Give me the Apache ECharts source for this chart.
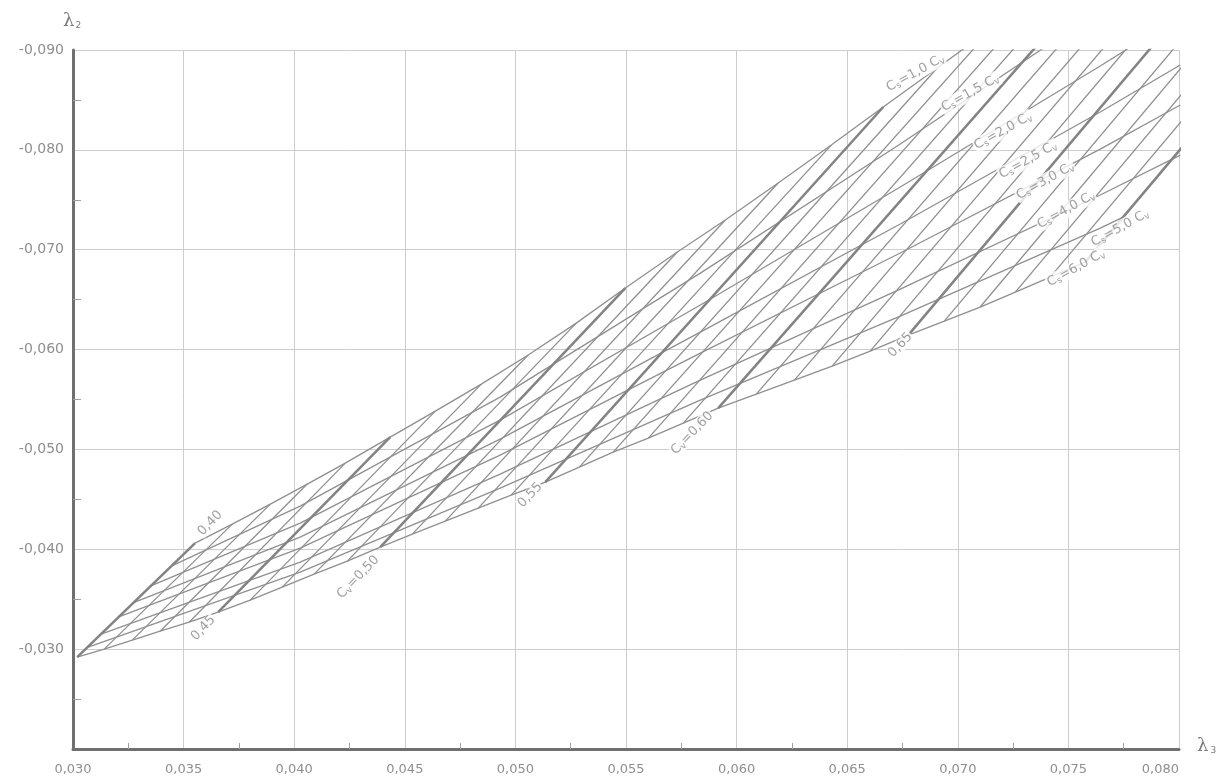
<!DOCTYPE html>
<html><head><meta charset="utf-8">
<script src="https://cdn.jsdelivr.net/npm/echarts@6/dist/echarts.min.js"></script>
<style>html,body{margin:0;padding:0;background:#fff}#c{width:1226px;height:783px}</style>
</head><body><div id="c"></div>
<script>
// Cv values of the steep lines
const cvValues = [0.40,0.41,0.42,0.43,0.44,0.45,0.46,0.47,0.48,0.49,0.50,0.51,0.52,0.53,0.54,0.55,0.56,0.57,0.58,0.59,0.60,0.61,0.62,0.63,0.64,0.65,0.66,0.67,0.68,0.69,0.70];
// Cs = 1.0 Cv curve (upper end of every Cv line)
const topL3 = [0.03552,0.03720,0.03892,0.04059,0.04231,0.04434,0.04638,0.04846,0.05058,0.05275,0.05497,0.05732,0.05949,0.06188,0.06428,0.06663,0.06907,0.07156,0.07409,0.07667,0.07929,0.08196,0.08467,0.08743,0.09023,0.09308,0.09597,0.09891,0.10189,0.10492,0.10800];
const topL2 = [-0.04062,-0.04252,-0.04452,-0.04653,-0.04863,-0.05123,-0.05384,-0.05654,-0.05945,-0.06265,-0.06616,-0.06977,-0.07297,-0.07668,-0.08048,-0.08429,-0.08820,-0.09220,-0.09631,-0.10052,-0.10483,-0.10923,-0.11374,-0.11835,-0.12306,-0.12786,-0.13277,-0.13778,-0.14289,-0.14810,-0.15341];
// Cs = 6.0 Cv curve (lower end of every Cv line)
const botL3 = [0.03019,0.03141,0.03268,0.03394,0.03525,0.03656,0.03801,0.03946,0.04090,0.04240,0.04389,0.04534,0.04683,0.04832,0.04981,0.05135,0.05289,0.05442,0.05601,0.05759,0.05917,0.06089,0.06261,0.06432,0.06604,0.06776,0.06939,0.07101,0.07260,0.07418,0.07576];
const botL2 = [-0.02920,-0.03000,-0.03090,-0.03180,-0.03270,-0.03370,-0.03491,-0.03621,-0.03751,-0.03881,-0.04022,-0.04152,-0.04282,-0.04412,-0.04542,-0.04673,-0.04823,-0.04973,-0.05113,-0.05264,-0.05414,-0.05554,-0.05694,-0.05835,-0.05985,-0.06145,-0.06285,-0.06426,-0.06576,-0.06726,-0.06876];
// intermediate Cs/Cv curves (lambda3, lambda2 pairs)
const r15L3 = [0.03444,0.04027,0.04931,0.05836,0.06740,0.07644];
const r15L2 = [-0.03831,-0.04432,-0.05524,-0.06766,-0.08058,-0.09401];
const r20L3 = [0.03349,0.04027,0.04931,0.05836,0.06740,0.07644,0.08006];
const r20L2 = [-0.03631,-0.04262,-0.05294,-0.06446,-0.07628,-0.08840,-0.09341];
const r25L3 = [0.03268,0.04027,0.04931,0.05836,0.06740,0.07644,0.08006];
const r25L2 = [-0.03461,-0.04122,-0.05103,-0.06175,-0.07257,-0.08379,-0.08850];
const r30L3 = [0.03204,0.04027,0.04931,0.05836,0.06740,0.07644,0.08006];
const r30L2 = [-0.03320,-0.04012,-0.04943,-0.05965,-0.06967,-0.08008,-0.08449];
const r40L3 = [0.03127,0.04027,0.04931,0.05836,0.06740,0.07644,0.08006];
const r40L2 = [-0.03150,-0.03871,-0.04753,-0.05694,-0.06606,-0.07548,-0.07948];
const r50L3 = [0.03069,0.04027,0.04931,0.05836,0.06740,0.07644,0.07757];
const r50L2 = [-0.03020,-0.03771,-0.04613,-0.05494,-0.06335,-0.07217,-0.07337];
// labels
const cvLabelText = ['0,40','0,45','C|v|=0,50','0,55','C|v|=0,60','0,65'];
const cvLabelL3 = [0.03620,0.03589,0.04289,0.05067,0.05799,0.06740];
const cvLabelL2 = [-0.04262,-0.03210,-0.03721,-0.04542,-0.05163,-0.06045];
const ratioText = ['1,0','1,5','2,0','2,5','3,0','4,0','5,0','6,0'];
const ratioLabelL3 = [0.06808,0.07056,0.07205,0.07318,0.07395,0.07490,0.07734,0.07535];
const ratioLabelL2 = [-0.08770,-0.08569,-0.08189,-0.07898,-0.07688,-0.07397,-0.07217,-0.06816];

const fmt = v => v.toFixed(3).replace('.', ',');
const LC = '#8f8f8f';
const FONT = 'DejaVu Sans';
const series = [];
const zip = (a, b) => a.map((v, i) => [v, b[i]]);

[[topL3, topL2], [r15L3, r15L2], [r20L3, r20L2], [r25L3, r25L2], [r30L3, r30L2], [r40L3, r40L2], [r50L3, r50L2], [botL3, botL2]].forEach(([a, b]) => {
  series.push({
    type: 'line', silent: true, symbol: 'none', animation: false, clip: true, z: 2,
    lineStyle: { color: LC, width: 1.3 }, data: zip(a, b)
  });
});
cvValues.forEach((cv, i) => {
  const thick = Math.round(cv * 100) % 5 === 0;
  series.push({
    type: 'line', silent: true, symbol: 'none', animation: false, clip: true, z: thick ? 3 : 2,
    lineStyle: { color: thick ? '#838383' : LC, width: thick ? 2.5 : 1.3 },
    data: [[topL3[i], topL2[i]], [botL3[i], botL2[i]]]
  });
});
const rich = {
  a: { fontSize: 13, color: '#8a8a8a', fontFamily: FONT },
  s: { fontSize: 9, color: '#8a8a8a', fontFamily: FONT, verticalAlign: 'bottom', padding: [6, 0, 0, 0] }
};
series.push({
  type: 'scatter', silent: true, animation: false, symbolSize: 1, z: 5,
  itemStyle: { color: 'rgba(0,0,0,0)' },
  label: {
    show: true, position: 'inside', rotate: 46, rich, backgroundColor: '#fff', padding: [0, 1],
    formatter: p => {
      const t = cvLabelText[p.dataIndex].split('|');
      return t.length === 1 ? '{a|' + t[0] + '}' : '{a|' + t[0] + '}{s|' + t[1] + '}{a|' + t[2] + '}';
    }
  },
  data: zip(cvLabelL3, cvLabelL2)
});
series.push({
  type: 'scatter', silent: true, animation: false, symbolSize: 1, z: 5,
  itemStyle: { color: 'rgba(0,0,0,0)' },
  label: {
    show: true, position: 'inside', rotate: 29, rich, backgroundColor: '#fff', padding: [0, 1],
    formatter: p => '{a|C}{s|s}{a|=' + ratioText[p.dataIndex] + ' C}{s|v}'
  },
  data: zip(ratioLabelL3, ratioLabelL2)
});

const chart = echarts.init(document.getElementById('c'), null, { renderer: 'canvas' });
chart.setOption({
  backgroundColor: '#fff',
  animation: false,
  grid: { left: 73, top: 50, width: 1106, height: 699 },
  xAxis: {
    type: 'value', min: 0.03, max: 0.08, interval: 0.005,
    axisLine: { show: true, onZero: false, lineStyle: { color: '#707070', width: 3 } },
    axisTick: { show: false, inside: true },
    minorTick: { show: true, splitNumber: 2, length: 6, lineStyle: { color: '#a0a0a0' } },
    splitLine: { show: true, lineStyle: { color: '#cdcdcd', width: 1 } },
    axisLabel: { formatter: fmt, color: '#8f8f8f', fontSize: 13, fontFamily: FONT, margin: 14, alignMaxLabel: 'right' }
  },
  yAxis: {
    type: 'value', inverse: true, min: -0.09, max: -0.02, interval: 0.01,
    axisLine: { show: true, onZero: false, lineStyle: { color: '#707070', width: 3 } },
    axisTick: { show: false, inside: true },
    minorTick: { show: true, splitNumber: 2, length: 8, lineStyle: { color: '#a0a0a0' } },
    splitLine: { show: true, lineStyle: { color: '#cdcdcd', width: 1 } },
    axisLabel: { formatter: v => (Math.abs(v + 0.02) < 1e-6 ? '' : fmt(v)), color: '#8f8f8f', fontSize: 14, fontFamily: FONT, margin: 9 }
  },
  graphic: [
    { type: 'text', left: 63, top: 12, style: { text: '{l|λ}{s|2}', rich: { l: { fontSize: 18, fill: '#7a7a7a', fontFamily: 'DejaVu Serif' }, s: { fontSize: 9, fill: '#7a7a7a', fontFamily: FONT, padding: [9, 0, 0, 1] } } } },
    { type: 'text', left: 1197, top: 737, style: { text: '{l|λ}{s|3}', rich: { l: { fontSize: 18, fill: '#7a7a7a', fontFamily: 'DejaVu Serif' }, s: { fontSize: 9, fill: '#7a7a7a', fontFamily: FONT, padding: [9, 0, 0, 2] } } } }
  ],
  series
});
</script></body></html>
